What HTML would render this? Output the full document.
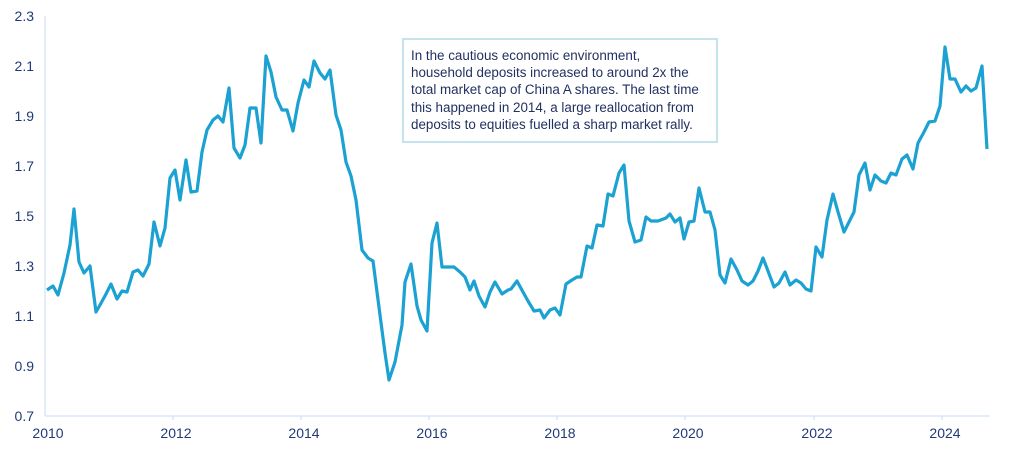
<!DOCTYPE html>
<html><head><meta charset="utf-8"><style>
body{margin:0;background:#fff;width:1016px;height:453px;overflow:hidden;font-family:"Liberation Sans",sans-serif}
.box{position:absolute;left:402px;top:38px;width:312px;height:101px;border:2px solid #c5e3ec;box-sizing:content-box}
.box p{margin:0;position:absolute;left:7px;top:7px;font-size:13.4px;line-height:17.2px;color:#1f2f5f;white-space:nowrap}
</style></head><body>
<svg width="1016" height="453" style="position:absolute;left:0;top:0">
<g fill="#1f3a7a" font-size="14" font-family="Liberation Sans, sans-serif">
<text x="34" y="21" text-anchor="end">2.3</text>
<text x="34" y="71" text-anchor="end">2.1</text>
<text x="34" y="121" text-anchor="end">1.9</text>
<text x="34" y="171" text-anchor="end">1.7</text>
<text x="34" y="221" text-anchor="end">1.5</text>
<text x="34" y="271" text-anchor="end">1.3</text>
<text x="34" y="321" text-anchor="end">1.1</text>
<text x="34" y="371" text-anchor="end">0.9</text>
<text x="34" y="421" text-anchor="end">0.7</text>
<g text-anchor="middle">
<text x="48" y="438">2010</text><text x="176" y="438">2012</text><text x="304" y="438">2014</text><text x="432" y="438">2016</text><text x="560" y="438">2018</text><text x="688" y="438">2020</text><text x="817" y="438">2022</text><text x="945" y="438">2024</text>
</g></g>
<g stroke="#c8def5" stroke-width="1">
<line x1="45" y1="16" x2="45" y2="416"/><line x1="45" y1="416" x2="990" y2="416"/>
<line x1="173" y1="416" x2="173" y2="420"/><line x1="301" y1="416" x2="301" y2="420"/><line x1="429" y1="416" x2="429" y2="420"/><line x1="557" y1="416" x2="557" y2="420"/><line x1="685" y1="416" x2="685" y2="420"/><line x1="814" y1="416" x2="814" y2="420"/><line x1="942" y1="416" x2="942" y2="420"/>
</g>
<polyline fill="none" stroke="#1ba1d2" stroke-width="3.2" stroke-linejoin="round" points="47,290 53,286 58,295 64,273 70,245 74,209 79,262 84,273 90,266 96,312 100,305 106,294 111,284 117,299 122,291 127,292 133,272 138,270 143,276 149,264 154,222 160,246 165,228 170,178 175,170 180,200 186,160 191,192 197,191 202,152 207,130 213,120 218,116 223,122 229,88 234,148 240,158 245,145 250,108 256,108 261,143 266,56 271,72 276,97 282,110 287,110 293,131 298,103 304,80 309,87 314,61 320,73 325,79 330,70 336,115 341,130 346,162 351,176 356,200 362,250 368,258 373,261 380,315 385,353 389,380 395,362 402,325 405,282 411,264 417,306 421,320 427,331 432,243 437,223 442,267 447,267 454,267 460,272 465,277 470,290 474,281 479,296 485,307 490,292 495,282 502,294 508,290 511,289 517,281 523,292 528,301 534,311 540,310 544,318 550,310 555,308 560,315 566,284 572,280 577,277 581,277 587,246 592,248 597,225 603,226 608,194 613,196 619,173 624,165 629,221 635,242 641,240 646,217 651,221 658,221 666,218 670,214 675,222 680,218 684,239 689,222 694,221 699,188 705,212 710,212 715,230 720,275 725,283 731,259 737,270 742,281 748,285 753,281 758,271 763,258 768,271 774,287 779,283 785,272 790,285 796,280 801,283 806,289 811,291 816,247 822,257 827,220 833,194 838,212 844,232 849,222 854,212 859,175 865,163 870,190 875,175 881,181 886,183 891,173 896,175 902,159 907,155 913,169 918,143 924,132 929,122 935,121 940,106 945,47 950,79 955,79 961,92 966,86 971,91 976,88 982,66 987,149"/>
</svg>
<div class="box"><p>In the cautious economic environment,<br>household deposits increased to around 2x the<br>total market cap of China A shares. The last time<br>this happened in 2014, a large reallocation from<br>deposits to equities fuelled a sharp market rally.</p></div>
</body></html>
